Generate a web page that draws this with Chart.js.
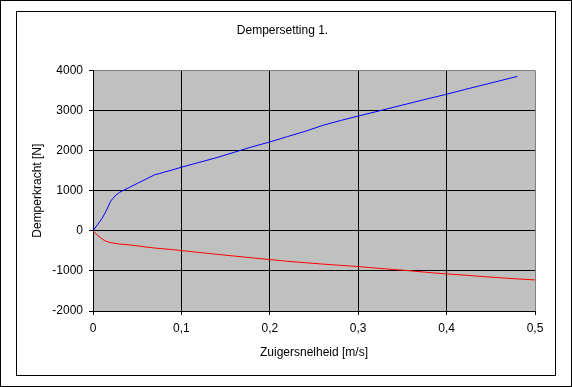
<!DOCTYPE html>
<html>
<head>
<meta charset="utf-8">
<script src="https://cdn.jsdelivr.net/npm/chart.js@4/dist/chart.umd.min.js"></script>
<style>
  html, body { margin: 0; padding: 0; background: #fff; }
  #wrap { width: 572px; height: 387px; }
</style>
</head>
<body>
<div id="wrap"><canvas id="c" width="572" height="387"></canvas></div>
<script>
// uitgaande slag (blauw) en ingaande slag (rood)
const speedUp = [0, 0.005, 0.01, 0.015, 0.02, 0.025, 0.03, 0.035, 0.04, 0.05, 0.06, 0.07, 0.075, 0.08, 0.09, 0.1,
  0.12, 0.14, 0.16, 0.18, 0.2, 0.22, 0.24, 0.26, 0.28, 0.3, 0.32, 0.34, 0.36, 0.38, 0.4, 0.42, 0.44, 0.46, 0.48];
const forceUp = [0, 150, 300, 500, 740, 870, 960, 1015, 1070, 1180, 1290, 1400, 1425, 1460, 1520, 1585,
  1705, 1825, 1960, 2095, 2215, 2350, 2480, 2630, 2750, 2862, 2970, 3080, 3190, 3300, 3405, 3520, 3630, 3740, 3850];

const speedDown = [0, 0.005, 0.01, 0.015, 0.02, 0.03, 0.04, 0.05, 0.06, 0.07, 0.08, 0.09, 0.1,
  0.12, 0.14, 0.16, 0.18, 0.2, 0.22, 0.24, 0.26, 0.28, 0.3, 0.32, 0.34, 0.36, 0.38, 0.4, 0.42, 0.44, 0.46, 0.48, 0.5];
const forceDown = [0, -110, -200, -265, -295, -330, -348, -375, -405, -430, -450, -470, -492,
  -540, -585, -630, -675, -717, -760, -795, -830, -862, -892, -930, -965, -1000, -1040, -1075, -1105, -1140, -1170, -1200, -1225];

const toPoints = (xs, ys) => xs.map((x, i) => ({ x: x, y: ys[i] }));

const fontName = '"Liberation Sans", Arial, sans-serif';

// kaders zoals in Excel
const frames = {
  id: 'frames',
  beforeDraw(chart) {
    const ctx = chart.ctx;
    ctx.save();
    ctx.fillStyle = '#fff';
    ctx.fillRect(0, 0, chart.width, chart.height);
    ctx.strokeStyle = '#000';
    ctx.lineWidth = 1;
    ctx.strokeRect(0.5, 0.5, 571, 386);
    ctx.strokeRect(16.5, 11.5, 539, 364);
    const a = chart.chartArea;
    ctx.fillStyle = '#c0c0c0';
    ctx.fillRect(a.left, a.top, a.right - a.left, a.bottom - a.top);
    ctx.restore();
  }
};

new Chart(document.getElementById('c'), {
  type: 'scatter',
  data: {
    datasets: [
      {
        label: 'uit',
        data: toPoints(speedUp, forceUp),
        showLine: true,
        borderColor: '#0000ff',
        borderWidth: 1,
        pointRadius: 0,
        tension: 0,
      },
      {
        label: 'in',
        data: toPoints(speedDown, forceDown),
        showLine: true,
        borderColor: '#ff0000',
        borderWidth: 1,
        pointRadius: 0,
        tension: 0,
      },
    ],
  },
  plugins: [frames],
  options: {
    responsive: false,
    animation: false,
    layout: { padding: { left: 30, right: 37, top: 0, bottom: 27 } },
    plugins: {
      legend: { display: false },
      tooltip: { enabled: false },
      title: {
        display: true,
        text: 'Dempersetting 1.',
        color: '#000',
        font: { family: fontName, size: 12, weight: 'normal' },
        padding: { top: 23, bottom: 33 },
      },
    },
    scales: {
      x: {
        type: 'linear',
        min: 0,
        max: 0.5,
        afterFit: (scale) => { scale.height = 49; },
        ticks: {
          stepSize: 0.1,
          color: '#000',
          padding: 6,
          maxRotation: 0,
          font: { family: fontName, size: 12 },
          callback: (v) => String(Math.round(v * 10) / 10).replace('.', ','),
        },
        grid: {
          color: (c) => (c.tick && c.tick.value >= 0.5 ? '#808080' : '#000'),
          tickColor: '#000',
          tickLength: 4,
          lineWidth: 1,
        },
        border: { color: '#000', width: 1 },
        title: {
          display: true,
          text: 'Zuigersnelheid [m/s]',
          color: '#000',
          font: { family: fontName, size: 12 },
          padding: { top: 0, bottom: 0 },
        },
      },
      y: {
        type: 'linear',
        min: -2000,
        max: 4000,
        afterFit: (scale) => { scale.width = 63; },
        ticks: {
          stepSize: 1000,
          color: '#000',
          padding: 6,
          font: { family: fontName, size: 12 },
          callback: (v) => String(v),
        },
        grid: {
          color: (c) => (c.tick && c.tick.value >= 4000 ? '#808080' : '#000'),
          tickColor: '#000',
          tickLength: 4,
          lineWidth: 1,
        },
        border: { color: '#000', width: 1 },
        title: {
          display: true,
          text: 'Demperkracht [N]',
          color: '#000',
          font: { family: fontName, size: 12 },
          padding: { top: 0, bottom: 0 },
        },
      },
    },
  },
});
</script>
</body>
</html>
